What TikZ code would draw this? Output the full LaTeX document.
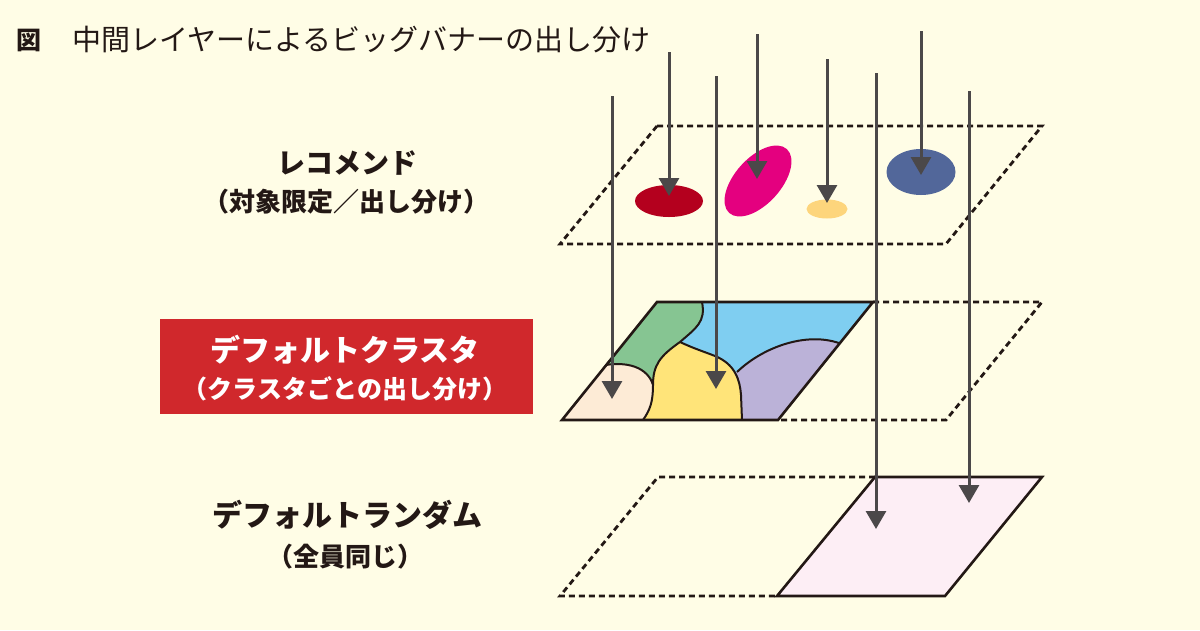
\documentclass[tikz,border=0pt]{standalone}
\usepackage{fontspec}
\setmainfont{Noto Sans CJK JP}
\usetikzlibrary{arrows.meta}

\definecolor{paper}{HTML}{FFFDE6}
\definecolor{ink}{HTML}{231815}
\definecolor{pole}{HTML}{4B4849}
\definecolor{boxred}{HTML}{D0282C}
\definecolor{cgreen}{HTML}{86C592}
\definecolor{cblue}{HTML}{7FCEF1}
\definecolor{cyellow}{HTML}{FFE479}
\definecolor{cbeige}{HTML}{FDEBD6}
\definecolor{cpurple}{HTML}{BBB2D8}
\definecolor{cpink}{HTML}{FDEEF5}
\definecolor{ecrimson}{HTML}{B4001E}
\definecolor{emagenta}{HTML}{E4007F}
\definecolor{egold}{HTML}{FDD57C}
\definecolor{enavy}{HTML}{52679A}

\tikzset{
  dashedge/.style={draw=ink, line width=2.8pt, dash pattern=on 6pt off 4pt},
  solidedge/.style={draw=ink, line width=2.6pt, line join=miter},
  border/.style={draw=ink, line width=2pt},
  drop/.style={draw=pole, line width=3pt, -{Triangle[width=20pt,length=18pt]}},
  lbl/.style={text=ink, inner sep=0pt, font=\bfseries\fontsize{28pt}{30pt}\selectfont},
  sublbl/.style={text=ink, inner sep=0pt, font=\bfseries\fontsize{26pt}{28pt}\selectfont},
}

\begin{document}
\begin{tikzpicture}[x=1pt, y=-1pt]
  \fill[paper] (0,0) rectangle (1200,630);
  \useasboundingbox (0,0) rectangle (1200,630);

  % title
  \node[text=ink, inner sep=0pt, font=\bfseries\fontsize{25pt}{27pt}\selectfont] (fig) at (29,40) {図};
  \node[text=ink, inner sep=0pt, anchor=west, font=\fontsize{29pt}{31pt}\selectfont] (title) at (72,40)
    {中間レイヤーによるビッグバナーの出し分け};

  % labels
  \node[lbl] (reco) at (347,163) {レコメンド};
  \node[sublbl] (recosub) at (346,202) {（対象限定／出し分け）};
  \node[fill=boxred, minimum width=373pt, minimum height=95pt, inner sep=0pt] (clbox) at (346.5,366.5) {};
  \node[inner sep=0pt, text=white, font=\bfseries\fontsize{30pt}{32pt}\selectfont] (cl) at (345,350) {デフォルトクラスタ};
  \node[inner sep=0pt, text=white, font=\bfseries\fontsize{25pt}{27pt}\selectfont] (clsub) at (345,389) {（クラスタごとの出し分け）};
  \node[lbl, font=\bfseries\fontsize{30pt}{32pt}\selectfont] (rand) at (347,515) {デフォルトランダム};
  \node[sublbl] (randsub) at (345,557) {（全員同じ）};

  % top layer
  \draw[dashedge] (657,126) -- (1042,126) -- (946,244) -- (560,244) -- cycle;

  % middle layer
  \draw[dashedge] (873,302) -- (1042,302) -- (946,420) -- (778,420);
  \begin{scope}
    \clip (657,302) -- (873,302) -- (778,420) -- (562,420) -- cycle;
    \fill[cblue] (550,290) rectangle (890,430);
    \fill[cpurple] (720,430) -- (720,380) -- (737,372) .. controls (765,345) and (815,328) .. (850,348) -- (860,430) -- cycle;
    \fill[cgreen] (640,290) -- (702,290) -- (702,302) .. controls (706,322) and (696,328) .. (680,342)
      .. controls (660,356) and (653,365) .. (653,385) .. controls (648,368) and (628,360) .. (600,366) -- cycle;
    \fill[cyellow] (680,342) .. controls (695,349) and (705,352) .. (715,356) .. controls (735,364) and (740,380) .. (741,395)
      -- (742,420) -- (742,430) -- (640,430) -- (643,420)
      .. controls (650,410) and (653,402) .. (653,385) .. controls (653,365) and (660,356) .. (680,342) -- cycle;
    \fill[cbeige] (600,366) .. controls (628,360) and (648,368) .. (653,385)
      .. controls (653,402) and (650,410) .. (643,420) -- (643,430) -- (550,430) -- cycle;
    \draw[border] (702,302) .. controls (706,322) and (696,328) .. (680,342)
      .. controls (660,356) and (653,365) .. (653,385) .. controls (653,402) and (650,410) .. (643,420);
    \draw[border] (600,366) .. controls (628,360) and (648,368) .. (653,385);
    \draw[border] (680,342) .. controls (695,349) and (705,352) .. (715,356) .. controls (735,364) and (740,380) .. (741,395) -- (742,420);
    \draw[border] (737,372) .. controls (765,345) and (815,328) .. (850,348);
  \end{scope}
  \draw[solidedge] (657,302) -- (873,302) -- (778,420) -- (562,420) -- cycle;

  % bottom layer
  \draw[dashedge] (875,477) -- (658,477) -- (560,596) -- (777,596);
  \filldraw[solidedge, fill=cpink] (875,477) -- (1042,477) -- (945,596) -- (777,596) -- cycle;

  % targets
  \fill[ecrimson] (669,201) ellipse [x radius=34pt, y radius=16pt];
  \fill[emagenta, rotate around={48:(758,181)}] (758,181) ellipse [x radius=43pt, y radius=23pt];
  \fill[egold] (827,209) ellipse [x radius=20.5pt, y radius=9.5pt];
  \fill[enavy] (921,172) ellipse [x radius=34.5pt, y radius=23pt];

  % arrows
  \foreach \x/\ys/\yt [count=\i] in {612/96/399, 669/52/196, 716/76/389, 757/34/179,
                                     827/59/203, 876/73/529, 921/31/175, 969/91/503} {
    \coordinate (s\i) at (\x,\ys);
    \coordinate (t\i) at (\x,\yt);
    \draw[drop] (s\i) -- (t\i);
  }
\end{tikzpicture}
\end{document}
